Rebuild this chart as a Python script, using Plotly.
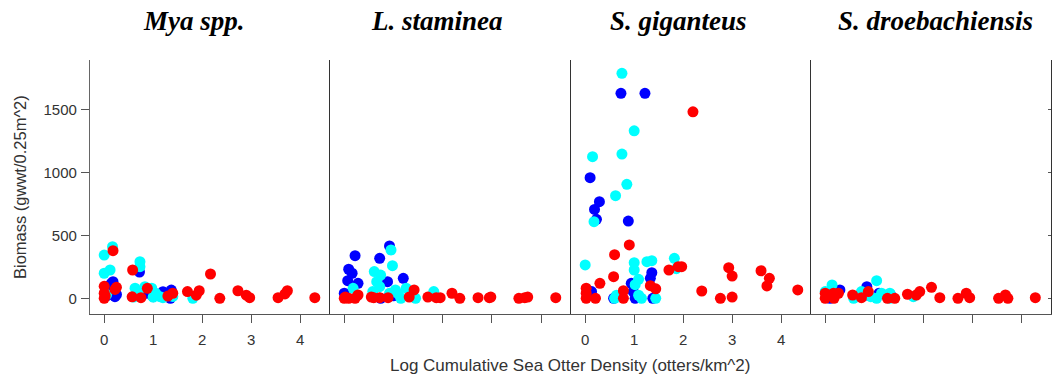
import plotly.graph_objects as go

W, H = 1052, 381

panel_titles = ["Mya spp.", "L. staminea", "S. giganteus", "S. droebachiensis"]
title_centers_px = [194, 437, 678, 936]

x_ticks = [0, 1, 2, 3, 4]
y_ticks = [0, 500, 1000, 1500]

# ---- Panel 1: Mya spp. ----
mya_blue_x = [0.02, 0.05, 0.10, 0.12, 0.15, 0.18, 0.20, 0.22, 0.25, 0.72, 0.86, 0.95, 1.00, 1.20, 1.35, 1.37, 1.30]
mya_blue_y = [50, 20, 100, 40, 120, 132, 60, 13, 30, 209, 40, 60, 13, 52, 0, 65, 20]
mya_cyan_x = [0.00, 0.00, 0.12, 0.17, 0.05, 0.60, 0.63, 0.73, 0.73, 0.83, 0.97, 1.00, 1.14, 1.20, 1.40, 1.81, 0.70, 1.05]
mya_cyan_y = [344, 199, 225, 410, 30, 10, 80, 291, 251, 92, 80, 10, 13, 5, 15, 0, 50, 40]
mya_red_x = [0.00, 0.00, 0.00, 0.02, 0.18, 0.22, 0.25, 0.57, 0.58, 0.75, 0.88, 1.30, 1.40, 1.70, 1.88, 1.94, 2.17, 2.36, 2.73, 2.90, 2.97, 3.55, 3.69, 3.74, 4.30]
mya_red_y = [95, 40, 0, 20, 379, 70, 87, 12, 225, 5, 79, 18, 40, 53, 25, 60, 193, 0, 60, 25, 5, 5, 35, 60, 5]

# ---- Panel 2: L. staminea ----
lst_blue_x = [0.92, 0.22, 0.72, 0.09, 0.16, 0.07, 0.28, 1.20, 0.88, 0.00, 0.74, 1.00]
lst_blue_y = [416, 339, 318, 231, 199, 140, 119, 159, 132, 40, 0, 20]
lst_cyan_x = [0.95, 0.98, 0.61, 0.74, 0.66, 0.72, 0.58, 0.18, 1.04, 1.10, 1.26, 1.15, 1.45, 1.82, 0.92]
lst_cyan_y = [384, 259, 212, 185, 132, 92, 53, 79, 66, 35, 80, 0, 0, 53, 40]
lst_red_x = [0.00, 0.09, 0.22, 0.28, 0.55, 0.72, 0.89, 1.32, 1.42, 1.70, 1.87, 1.95, 2.19, 2.35, 2.72, 2.95, 2.98, 3.55, 3.67, 3.73, 4.30, 0.02, 0.60]
lst_red_y = [0, 0, 0, 26, 10, 5, 5, 10, 66, 10, 5, 5, 40, 0, 5, 5, 10, 0, 5, 10, 5, 10, 5]

# ---- Panel 3: S. giganteus ----
sgi_blue_x = [0.73, 1.22, 0.10, 0.29, 0.19, 0.23, 0.88, 1.36, 1.33, 0.94, 0.98, 1.02, 1.38, 0.13, 0.58, 0.05]
sgi_blue_y = [1630, 1630, 959, 768, 707, 628, 614, 204, 159, 119, 53, 0, 0, 53, 0, 20]
sgi_cyan_x = [0.75, 1.00, 0.15, 0.75, 0.85, 0.62, 0.18, 0.00, 1.82, 1.86, 1.00, 1.00, 1.26, 1.36, 1.09, 1.02, 0.64, 0.60, 1.09, 1.15, 1.44]
sgi_cyan_y = [1789, 1332, 1126, 1147, 906, 816, 609, 265, 318, 235, 283, 225, 291, 299, 151, 108, 24, 0, 24, 0, 0]
sgi_red_x = [0.90, 0.60, 0.58, 0.30, 0.02, 0.02, 0.02, 0.21, 0.78, 0.78, 1.33, 1.44, 1.71, 1.90, 1.97, 2.20, 2.38, 2.76, 2.93, 3.00, 3.00, 3.59, 3.71, 3.76, 4.34]
sgi_red_y = [424, 347, 172, 119, 80, 40, 0, 0, 60, 0, 100, 75, 225, 251, 251, 1483, 58, 0, 243, 177, 10, 219, 98, 159, 66]

# ---- Panel 4: S. droebachiensis ----
sdr_blue_x = [0.85, 0.30, 1.10, 1.33, 0.10, 0.82, 0.05]
sdr_blue_y = [92, 66, 40, 30, 0, 25, 5]
sdr_cyan_x = [1.05, 0.14, 0.74, 0.81, 0.93, 1.05, 1.15, 1.32, 1.32, 1.80, 0.00, 0.58]
sdr_cyan_y = [140, 106, 53, 40, 13, 0, 40, 40, 0, 13, 53, 0]
sdr_red_x = [2.17, 1.93, 1.86, 1.68, 2.34, 2.71, 2.88, 2.95, 3.54, 3.68, 3.73, 4.29, 0.88, 0.56, 0.74, 1.27, 1.42, 0.00, 0.00, 0.17, 0.27, 0.18]
sdr_red_y = [87, 53, 26, 32, 5, 0, 40, 5, 0, 26, 0, 5, 53, 26, 5, 0, 0, 40, 0, 40, 40, 0]

panels = [
    (mya_blue_x, mya_blue_y, mya_cyan_x, mya_cyan_y, mya_red_x, mya_red_y),
    (lst_blue_x, lst_blue_y, lst_cyan_x, lst_cyan_y, lst_red_x, lst_red_y),
    (sgi_blue_x, sgi_blue_y, sgi_cyan_x, sgi_cyan_y, sgi_red_x, sgi_red_y),
    (sdr_blue_x, sdr_blue_y, sdr_cyan_x, sdr_cyan_y, sdr_red_x, sdr_red_y),
]

colors = ["#0000FF", "#00FFFF", "#FF0000"]
x_range = [-0.29, 4.61]
y_range = [-125, 1895]

panel_px = [(90, 330), (330, 571), (571, 811), (811, 1051)]
y_dom = [1 - 314 / H, 1 - 60 / H]

fig = go.Figure()
for i, p in enumerate(panels):
    xa = "x" if i == 0 else f"x{i+1}"
    ya = "y" if i == 0 else f"y{i+1}"
    for k in range(3):
        fig.add_trace(go.Scatter(
            x=p[2 * k], y=p[2 * k + 1], mode="markers", xaxis=xa, yaxis=ya,
            marker=dict(color=colors[k], size=11, line=dict(width=0)),
            showlegend=False, hoverinfo="skip"))

layout = dict(
    width=W, height=H, margin=dict(l=0, r=0, t=0, b=0),
    paper_bgcolor="white", plot_bgcolor="white", showlegend=False,
    font=dict(family="Liberation Sans, Arial, sans-serif", size=15, color="#333333"),
)
for i, (a, b) in enumerate(panel_px):
    n = "" if i == 0 else str(i + 1)
    layout["xaxis" + n] = dict(
        domain=[a / W, b / W], range=x_range, anchor="y" + n,
        showline=True, linecolor="#555555", linewidth=1.3,
        ticks="outside", ticklen=8, tickwidth=1.2, tickcolor="#555555",
        tickvals=x_ticks, showticklabels=(i in (0, 2)), ticklabelstandoff=4,
        showgrid=False, zeroline=False, fixedrange=True,
        tickfont=dict(size=15, color="#333333"))
    yax = dict(
        domain=y_dom, range=y_range, anchor="x" + n,
        showline=True, linecolor="#666666" if i == 0 else "#333333", linewidth=1.3,
        showgrid=False, zeroline=False, fixedrange=True)
    if i == 0:
        yax.update(ticks="outside", ticklen=8, tickwidth=1.2, tickcolor="#555555",
                   tickvals=y_ticks, showticklabels=True, ticklabelstandoff=1,
                   tickfont=dict(size=15, color="#333333"))
    else:
        yax.update(ticks="", showticklabels=False)
    layout["yaxis" + n] = yax

layout["yaxis5"] = dict(
    overlaying="y4", side="right", anchor="x4", range=y_range,
    showline=True, linecolor="#333333", linewidth=1.3,
    ticks="inside", ticklen=3, tickcolor="#555555", tickvals=y_ticks,
    showticklabels=False, showgrid=False, zeroline=False, fixedrange=True)

annotations = []
for t, c in zip(panel_titles, title_centers_px):
    annotations.append(dict(
        text=t, x=c / W, y=1 - 21 / H, xref="paper", yref="paper",
        xanchor="center", yanchor="middle", showarrow=False,
        font=dict(family="Liberation Serif, Times New Roman, serif", size=27,
                  color="black", weight="bold", style="italic")))
annotations.append(dict(
    text="Log Cumulative Sea Otter Density (otters/km^2)", x=570 / W, y=1 - 365 / H,
    xref="paper", yref="paper", xanchor="center", yanchor="middle", showarrow=False,
    font=dict(size=17, color="#333333")))
annotations.append(dict(
    text="Biomass (gwwt/0.25m^2)", x=20 / W, y=1 - 187 / H, textangle=-90,
    xref="paper", yref="paper", xanchor="center", yanchor="middle", showarrow=False,
    font=dict(size=16.5, color="#333333")))
layout["annotations"] = annotations

fig.update_layout(**layout)
fig.add_trace(go.Scatter(x=[None], y=[None], xaxis="x4", yaxis="y5", showlegend=False, hoverinfo="skip"))
fig.write_html("out.html")
